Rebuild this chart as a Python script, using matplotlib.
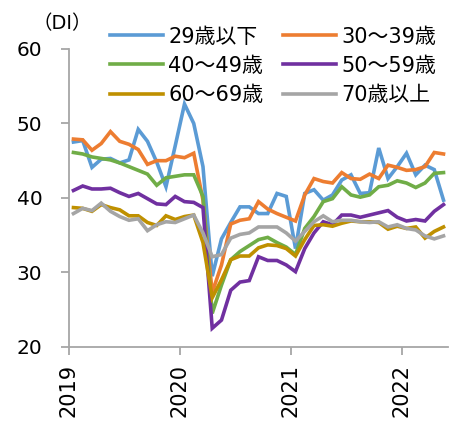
import numpy as np
import matplotlib
matplotlib.use("Agg")
import matplotlib.pyplot as plt

plt.rcParams['font.family'] = ['DejaVu Sans', 'Noto Sans CJK JP']

# ── Data (monthly DI, Jan 2019 - May 2022) ───────────────────────────────────
years = ["2019", "2020", "2021", "2022"]

under29 = [47.5, 47.7, 44.1, 45.2, 45.3, 44.7, 45.1, 49.2, 47.6, 44.8, 41.5, 47.0,
           52.6, 50.0, 44.2, 29.5, 34.5, 36.7, 38.8, 38.8, 37.9, 37.9, 40.6, 40.2,
           33.2, 40.6, 41.1, 39.7, 40.4, 42.4, 43.1, 40.6, 40.7, 46.7, 42.6, 44.2,
           46.0, 43.1, 44.4, 43.8, 39.7]
age30s = [47.9, 47.8, 46.4, 47.3, 48.9, 47.6, 47.2, 46.5, 44.5, 45.0, 45.0, 45.6,
          45.4, 46.0, 39.7, 27.3, 31.0, 36.5, 37.0, 37.2, 39.5, 38.5, 37.9, 37.4,
          36.9, 40.4, 42.6, 42.2, 42.0, 43.4, 42.6, 42.5, 43.2, 42.6, 44.4, 44.1,
          43.7, 43.8, 44.2, 46.1, 45.9]
age40s = [46.1, 45.9, 45.5, 45.3, 45.1, 44.7, 44.2, 43.7, 43.2, 41.7, 42.7, 42.9,
          43.1, 43.1, 40.2, 24.5, 28.3, 31.7, 32.8, 33.6, 34.4, 34.7, 34.0, 33.4,
          32.4, 35.9, 37.5, 39.5, 39.9, 41.5, 40.4, 40.1, 40.4, 41.5, 41.7, 42.3,
          42.0, 41.4, 42.0, 43.3, 43.4]
age50s = [41.0, 41.6, 41.2, 41.2, 41.3, 40.7, 40.2, 40.6, 39.9, 39.2, 39.1, 40.2,
          39.5, 39.4, 38.7, 22.5, 23.6, 27.6, 28.7, 28.9, 32.1, 31.6, 31.6, 31.0,
          30.1, 33.2, 35.3, 36.8, 36.4, 37.7, 37.7, 37.4, 37.7, 38.0, 38.3, 37.4,
          36.9, 37.1, 36.9, 38.2, 39.1]
age60s = [38.7, 38.6, 38.2, 39.1, 38.7, 38.4, 37.6, 37.6, 36.7, 36.3, 37.6, 37.1,
          37.5, 37.7, 34.0, 26.6, 29.0, 31.7, 32.2, 32.2, 33.3, 33.7, 33.6, 33.2,
          32.2, 34.4, 36.3, 36.4, 36.2, 36.6, 36.9, 36.8, 36.8, 36.7, 35.8, 36.2,
          35.9, 36.1, 34.6, 35.5, 36.1]
over70 = [37.9, 38.6, 38.3, 39.3, 38.2, 37.5, 37.0, 37.2, 35.6, 36.4, 36.8, 36.7,
          37.2, 37.7, 35.3, 32.1, 32.4, 34.6, 35.1, 35.3, 36.1, 36.1, 36.1, 35.3,
          34.2, 35.5, 36.8, 37.6, 36.8, 37.0, 37.0, 36.8, 36.7, 36.8, 36.1, 36.4,
          35.9, 35.7, 34.9, 34.5, 34.9]

labels = ["29歳以下", "30～39歳", "40～49歳", "50～59歳", "60～69歳", "70歳以上"]
colors = ["#5B9BD5", "#ED7D31", "#70AD47", "#7030A0", "#BF9000", "#A5A5A5"]
series = [under29, age30s, age40s, age50s, age60s, over70]

# ── Plot ─────────────────────────────────────────────────────────────────────
fig = plt.figure(figsize=(4.62, 4.22), dpi=100)
ax = fig.add_axes([0.149, 0.178, 0.821, 0.706])

x = np.arange(len(under29))
lines = []
for vals, col, lab in zip(series, colors, labels):
    ln, = ax.plot(x, vals, color=col, linewidth=2.6, label=lab,
                  solid_joinstyle="miter")
    lines.append(ln)

ax.set_ylim(20, 60)
ax.set_yticks([20, 30, 40, 50, 60])
ax.set_xlim(-0.5, len(x) - 0.5)
ax.set_xticks([-0.5 + 12 * k for k in range(len(years))])
ax.set_xticklabels(years, rotation=90, va="top", ha="center")

ax.spines["top"].set_visible(False)
ax.spines["right"].set_visible(False)
for s in ("left", "bottom"):
    ax.spines[s].set_color("#A6A6A6")
    ax.spines[s].set_linewidth(1.3)
ax.tick_params(axis="y", length=6, width=1.3, color="#A6A6A6", pad=13,
               labelsize=14.5, labelcolor="black")
ax.tick_params(axis="x", length=6, width=1.3, color="#A6A6A6", pad=6,
               labelsize=15, labelcolor="black")

fig.text(0.135, 0.943, "（DI）", fontsize=14, ha="center", va="center")

# legend: row-wise order for 2 columns
order = [0, 2, 4, 1, 3, 5]
leg = fig.legend([lines[i] for i in order], [labels[i] for i in order],
                 ncol=2, loc="upper left", bbox_to_anchor=(0.238, 0.937),
                 frameon=False, fontsize=15, handlelength=2.55,
                 handletextpad=0.24, columnspacing=0.95, labelspacing=0.44,
                 borderaxespad=0.0, borderpad=0.0)

fig.savefig("out.png", dpi=100)
